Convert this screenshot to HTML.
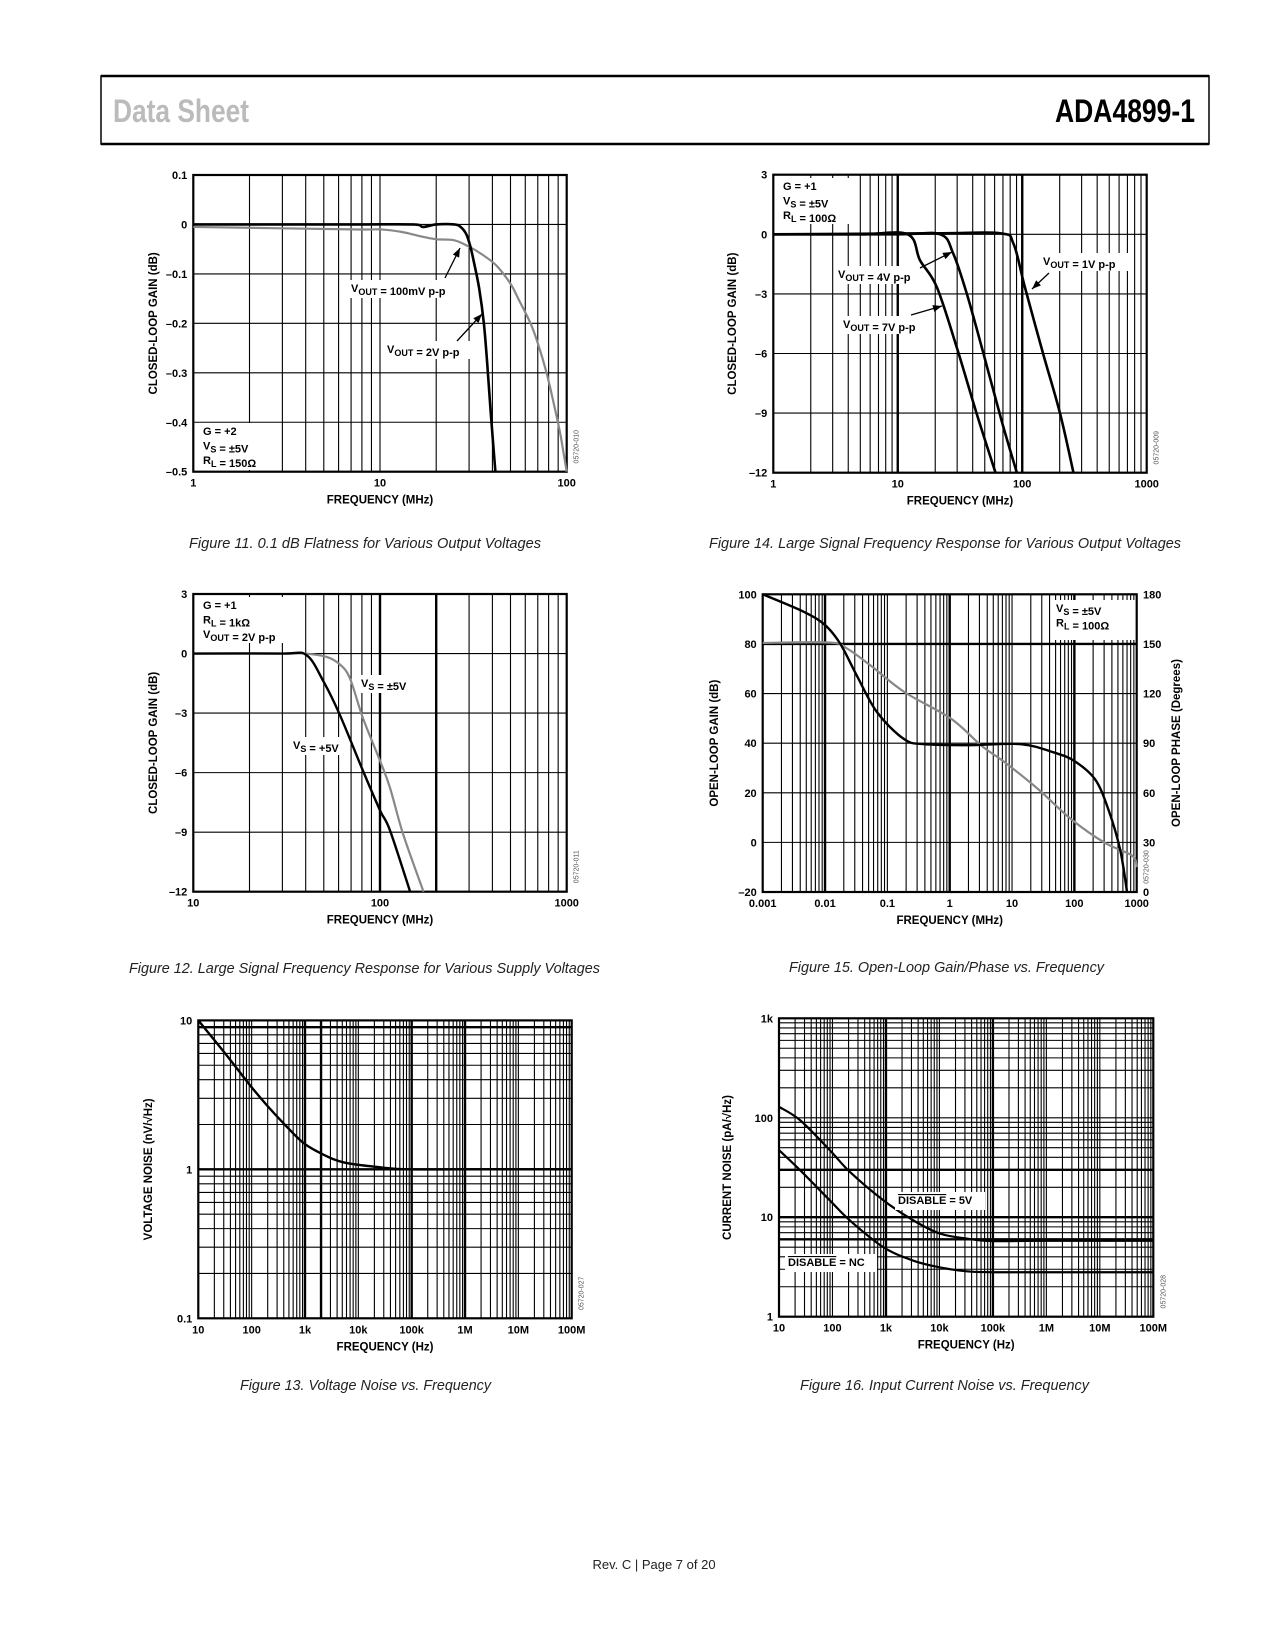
<!DOCTYPE html>
<html><head><meta charset="utf-8"><style>
html,body{margin:0;padding:0;background:#fff;}
svg{display:block;}
text{font-family:"Liberation Sans",Arial,sans-serif;}
.tk{font-size:11px;font-weight:bold;fill:#000;}
.ttl{font-size:11.5px;font-weight:bold;fill:#000;}
.cap{font-size:15px;font-style:italic;fill:#222;}
</style></head><body>
<svg id="page" width="1275" height="1650" viewBox="0 0 1275 1650" xmlns="http://www.w3.org/2000/svg">
<rect x="0" y="0" width="1275" height="1650" fill="#fff"/>
<g>
<rect x="101" y="76" width="1108" height="68" fill="none" stroke="#000" stroke-width="1.5"/>
<line x1="101" y1="76" x2="1209" y2="76" stroke="#000" stroke-width="2.5"/>
<line x1="101" y1="144" x2="1209" y2="144" stroke="#000" stroke-width="2.5"/>
<text x="113" y="122" font-size="32" font-weight="bold" fill="#bbb" textLength="136" lengthAdjust="spacingAndGlyphs">Data Sheet</text>
<text x="1055" y="122" font-size="32" font-weight="bold" fill="#000" textLength="140" lengthAdjust="spacingAndGlyphs">ADA4899-1</text>
</g>
<text class="cap" x="189" y="548" textLength="352" lengthAdjust="spacingAndGlyphs">Figure 11. 0.1 dB Flatness for Various Output Voltages</text>
<text class="cap" x="709" y="548" textLength="472" lengthAdjust="spacingAndGlyphs">Figure 14. Large Signal Frequency Response for Various Output Voltages</text>
<text class="cap" x="129" y="973" textLength="471" lengthAdjust="spacingAndGlyphs">Figure 12. Large Signal Frequency Response for Various Supply Voltages</text>
<text class="cap" x="789" y="972" textLength="315" lengthAdjust="spacingAndGlyphs">Figure 15. Open-Loop Gain/Phase vs. Frequency</text>
<text class="cap" x="240" y="1390" textLength="251" lengthAdjust="spacingAndGlyphs">Figure 13. Voltage Noise vs. Frequency</text>
<text class="cap" x="800" y="1390" textLength="289" lengthAdjust="spacingAndGlyphs">Figure 16. Input Current Noise vs. Frequency</text>
<text x="654" y="1569" font-size="13" fill="#222" text-anchor="middle">Rev. C | Page 7 of 20</text>
</svg>
<script>
// ---- Figure 11 data ----
const f11Freq2V = [1, 7, 15, 17, 20, 25, 27, 29, 30.5, 32, 34, 36, 37.5, 39, 40.5, 41.5];
const f11Gain2V = [0, 0, 0, -0.005, 0, 0, -0.005, -0.02, -0.045, -0.08, -0.13, -0.2, -0.28, -0.37, -0.45, -0.5];
const f11Freq100m = [1, 7, 10, 13, 17, 20, 25, 30, 35, 42, 50, 55, 64, 70, 78, 85, 92, 96, 100];
const f11Gain100m = [-0.005, -0.01, -0.01, -0.015, -0.025, -0.03, -0.032, -0.045, -0.06, -0.083, -0.12, -0.15, -0.2, -0.24, -0.3, -0.36, -0.42, -0.46, -0.5];
const f11YTicks = [0.1, 0, -0.1, -0.2, -0.3, -0.4, -0.5];
const f11YLabels = ["0.1", "0", "–0.1", "–0.2", "–0.3", "–0.4", "–0.5"];
const f11XTicks = [1, 10, 100];
const f11XLabels = ["1", "10", "100"];
// ---- Figure 14 data ----
const f14Freq7V = [1, 5, 12, 15.1, 20.6, 29.8, 43.1, 61];
const f14Gain7V = [0, 0, 0, -1.31, -2.66, -5.7, -9.04, -12];
const f14Freq4V = [1, 10, 21.9, 27.9, 35.9, 48.8, 68.4, 90.5];
const f14Gain4V = [0, 0, 0, -0.97, -3, -6, -9.4, -12];
const f14Freq1V = [1, 20, 66.7, 85, 105, 147, 201, 258];
const f14Gain1V = [0, 0.05, 0.05, -0.47, -2.66, -6, -9, -12];
const f14YTicks = [3, 0, -3, -6, -9, -12];
const f14YLabels = ["3", "0", "–3", "–6", "–9", "–12"];
const f14XTicks = [1, 10, 100, 1000];
const f14XLabels = ["1", "10", "100", "1000"];
// ---- Figure 12 data ----
const f12FreqP5 = [10, 30, 40.4, 49.9, 61, 81, 100, 113, 145];
const f12GainP5 = [0, 0, -0.08, -1.42, -3.1, -5.9, -7.9, -8.9, -12];
const f12FreqPM5 = [10, 30, 35, 40, 51.8, 61, 69, 81, 100, 113, 133, 171];
const f12GainPM5 = [0, 0, 0.02, 0, -0.17, -0.55, -1.25, -3.25, -5.4, -6.75, -9.1, -12];
const f12YTicks = [3, 0, -3, -6, -9, -12];
const f12YLabels = ["3", "0", "–3", "–6", "–9", "–12"];
const f12XTicks = [10, 100, 1000];
const f12XLabels = ["10", "100", "1000"];
// ---- Figure 15 data ----
const f15Freq = [0.001, 0.00452, 0.01, 0.0176, 0.0327, 0.0687, 0.186, 0.39, 2.16, 13.9, 47.5, 100, 215, 352, 543, 700];
const f15Gain = [100, 93, 87.6, 80, 67, 52.4, 41.6, 39.6, 39.2, 39.6, 36.2, 32.8, 25.4, 13.2, -3, -20];
const f15PhFreq = [0.001, 0.0122, 0.0226, 0.0536, 0.186, 1.05, 3.2, 7.6, 26, 89, 306, 843, 1000];
const f15Phase = [150.6, 150.8, 147.2, 137, 121, 104.8, 88.6, 78.5, 62.3, 44, 29.8, 22, 15];
const f15YTicks = [100, 80, 60, 40, 20, 0, -20];
const f15YLabels = ["100", "80", "60", "40", "20", "0", "–20"];
const f15PhTicks = [180, 150, 120, 90, 60, 30, 0];
const f15PhLabels = ["180", "150", "120", "90", "60", "30", "0"];
const f15XTicks = [0.001, 0.01, 0.1, 1, 10, 100, 1000];
const f15XLabels = ["0.001", "0.01", "0.1", "1", "10", "100", "1000"];
// ---- Figure 13 data ----
const f13Freq = [10, 33.9, 92, 190, 390, 922, 2180, 5500, 26700, 85000, 1e6, 1e8];
const f13Noise = [10, 5.84, 3.69, 2.71, 2.05, 1.51, 1.26, 1.11, 1.03, 1.0, 1.0, 1.0];
const f13YTicks = [0.1, 1, 10];
const f13YLabels = ["0.1", "1", "10"];
const f13XTicks = [10, 100, 1e3, 1e4, 1e5, 1e6, 1e7, 1e8];
const f13XLabels = ["10", "100", "1k", "10k", "100k", "1M", "10M", "100M"];
// ---- Figure 16 data ----
const f16Freq5V = [10, 24.7, 89, 211, 895, 3250, 10300, 32500, 89000, 1e6, 1e8];
const f16Noise5V = [129, 94.7, 47.3, 28.6, 14.8, 9.3, 6.84, 6.1, 5.77, 5.8, 5.8];
const f16FreqNC = [10, 24.7, 89, 211, 895, 3250, 10300, 32500, 102000, 1e6, 1e8];
const f16NoiseNC = [47.3, 29.8, 14.8, 9.3, 5.0, 3.66, 3.13, 2.86, 2.8, 2.8, 2.8];
const f16YTicks = [1, 10, 100, 1000];
const f16YLabels = ["1", "10", "100", "1k"];
const f16XTicks = [10, 100, 1e3, 1e4, 1e5, 1e6, 1e7, 1e8];
const f16XLabels = ["10", "100", "1k", "10k", "100k", "1M", "10M", "100M"];

const NS = "http://www.w3.org/2000/svg";
const page = document.getElementById('page');
function mk(tag, attrs, parent) {
  const e = document.createElementNS(NS, tag);
  for (const k in attrs) e.setAttribute(k, attrs[k]);
  parent.appendChild(e);
  return e;
}
function chart(cfg) {
  const g = mk('g', {}, page);
  
  
  const lx0 = Math.log10(cfg.xmin), lx1 = Math.log10(cfg.xmax);
  const sx = v => cfg.L + (Math.log10(v) - lx0) / (lx1 - lx0) * (cfg.R - cfg.L);
  let sy;
  if (cfg.ylog) {
    const a = Math.log10(cfg.ymin), b = Math.log10(cfg.ymax);
    sy = v => cfg.B - (Math.log10(v) - a) / (b - a) * (cfg.B - cfg.T);
  } else {
    sy = v => cfg.B - (v - cfg.ymin) / (cfg.ymax - cfg.ymin) * (cfg.B - cfg.T);
  }
  const grid = mk('g', {stroke: '#000', fill: 'none'}, g);
  
  
  for (let d = Math.round(lx0); d < Math.round(lx1); d++) {
    for (let m = 1; m <= 9; m++) {
      const v = m * Math.pow(10, d);
      const x = sx(v);
      if (x <= cfg.L + 0.5 || x >= cfg.R - 0.5) continue;
      const thick = (cfg.thickX || []).some(t => Math.abs(t - v) / v < 1e-6);
      const ln = mk('line', {x1: x, x2: x, y1: cfg.T, y2: cfg.B, 'stroke-width': thick ? 2.4 : 1.1}, grid);
      
      
    }
  }
  let hvals = [];
  if (cfg.ylog) {
    for (let d = Math.round(Math.log10(cfg.ymin)); d < Math.round(Math.log10(cfg.ymax)); d++)
      for (let m = 1; m <= 9; m++) hvals.push(m * Math.pow(10, d));
  } else hvals = cfg.yTicks.slice();
  hvals.forEach(v => {
    const y = sy(v);
    if (y <= cfg.T + 0.5 || y >= cfg.B - 0.5) return;
    const thick = (cfg.thickY || []).some(t => Math.abs(t - v) < 1e-6 * Math.max(1, Math.abs(v)));
    const ln = mk('line', {x1: cfg.L, x2: cfg.R, y1: y, y2: y, 'stroke-width': thick ? 2.4 : 1.1}, grid);
    
    
  });
  const fr = mk('rect', {x: cfg.L, y: cfg.T, width: cfg.R - cfg.L, height: cfg.B - cfg.T, fill: 'none', stroke: '#000', 'stroke-width': 2.2}, g);
  
  
  cfg.yTicks.forEach((v, i) => {
    const t = mk('text', {x: cfg.L - 6, y: sy(v) + 4, class: 'tk', 'text-anchor': 'end'}, g);
    t.textContent = cfg.yLabels[i];
    
    
  });
  cfg.xTicks.forEach((v, i) => {
    const t = mk('text', {x: sx(v), y: cfg.B + 15, class: 'tk', 'text-anchor': 'middle'}, g);
    t.textContent = cfg.xLabels[i];
    
    
  });
  const xt = mk('text', {x: (cfg.L + cfg.R) / 2, y: cfg.B + 32, class: 'ttl', 'text-anchor': 'middle'}, g);
  xt.textContent = cfg.xTitle;
  
  
  const cy = (cfg.T + cfg.B) / 2;
  const yt = mk('text', {x: cfg.yTitleX, y: cy, class: 'ttl', 'text-anchor': 'middle', transform: `rotate(-90 ${cfg.yTitleX} ${cy})`}, g);
  yt.innerHTML = cfg.yTitle;
  
  
  const cx = cfg.R + 12, cyy = cfg.B - 25;
  const code = mk('text', {x: cx, y: cyy, 'font-size': 7, fill: '#555', 'text-anchor': 'middle', transform: `rotate(-90 ${cx} ${cyy})`}, g);
  code.textContent = cfg.code;
  
  
  return {g, sx, sy};
}
function series(c, xs, ys, color, w, name, syf) {
  const f = syf || c.sy;
  const p = xs.map((x, i) => [c.sx(x), f(ys[i])]);
  let d = `M${p[0][0]},${p[0][1]}`;
  for (let i = 0; i < p.length - 1; i++) {
    const p0 = p[i - 1] || p[i], p1 = p[i], p2 = p[i + 1], p3 = p[i + 2] || p2;
    const c1 = [p1[0] + (p2[0] - p0[0]) / 6, p1[1] + (p2[1] - p0[1]) / 6];
    const c2 = [p2[0] - (p3[0] - p1[0]) / 6, p2[1] - (p3[1] - p1[1]) / 6];
    d += ` C${c1[0]},${c1[1]} ${c2[0]},${c2[1]} ${p2[0]},${p2[1]}`;
  }
  const e = mk('path', {d, fill: 'none', stroke: color, 'stroke-width': w, 'stroke-linejoin': 'round'}, c.g);
  
  
  return e;
}
function label(parent, x, y, w, h, html, name) {
  const gg = mk('g', {}, parent);
  
  
  mk('rect', {x, y, width: w, height: h, fill: '#fff'}, gg);
  const lines = Array.isArray(html) ? html : [html];
  lines.forEach((s, i) => {
    const t = mk('text', {x: x + 3, y: y + 12 + i * 14.5, class: 'tk'}, gg);
    t.innerHTML = s;
  });
  return gg;
}
function arrow(parent, x1, y1, x2, y2) {
  const gg = mk('g', {}, parent);
  
  
  mk('line', {x1, y1, x2, y2, stroke: '#000', 'stroke-width': 1.3}, gg);
  const a = Math.atan2(y2 - y1, x2 - x1), L = 9, W = 3.5;
  const bx = x2 - L * Math.cos(a), by = y2 - L * Math.sin(a);
  mk('polygon', {points: `${x2},${y2} ${bx - W * Math.sin(a)},${by + W * Math.cos(a)} ${bx + W * Math.sin(a)},${by - W * Math.cos(a)}`, fill: '#000'}, gg);
}
const sub = s => `<tspan dy="3" font-size="9">${s}</tspan><tspan dy="-3"></tspan>`;
const ov = s => `<tspan text-decoration="overline">${s}</tspan>`;

// Figure 11
const c1 = chart({name: 'chart-fig11', L: 193.3, R: 566.7, T: 175, B: 471.7, xmin: 1, xmax: 100, ymin: -0.5, ymax: 0.1,
  yTicks: f11YTicks, yLabels: f11YLabels, xTicks: f11XTicks, xLabels: f11XLabels,
  xTitle: 'FREQUENCY (MHz)', yTitle: 'CLOSED-LOOP GAIN (dB)', yTitleX: 157, code: '05720-010'});
series(c1, f11Freq100m, f11Gain100m, '#888', 2.2, 'series-100mv');
series(c1, f11Freq2V, f11Gain2V, '#000', 2.6, 'series-2v');
label(c1.g, 348, 280, 118, 18, 'V' + sub('OUT') + ' = 100mV p-p', 'label-100mv');
arrow(c1.g, 445, 278, 460, 248);
label(c1.g, 384, 341, 90, 18, 'V' + sub('OUT') + ' = 2V p-p', 'label-2v');
arrow(c1.g, 457, 341, 482, 314);
label(c1.g, 200, 423, 80, 47, ['G = +2', 'V' + sub('S') + ' = ±5V', 'R' + sub('L') + ' = 150Ω'], 'legend-conditions');

// Figure 14
const c2 = chart({name: 'chart-fig14', L: 773.3, R: 1146.7, T: 174.7, B: 472.7, xmin: 1, xmax: 1000, ymin: -12, ymax: 3,
  yTicks: f14YTicks, yLabels: f14YLabels, xTicks: f14XTicks, xLabels: f14XLabels, thickX: [10, 100],
  xTitle: 'FREQUENCY (MHz)', yTitle: 'CLOSED-LOOP GAIN (dB)', yTitleX: 736, code: '05720-009'});
label(c2.g, 780, 178, 72, 46, ['G = +1', 'V' + sub('S') + ' = ±5V', 'R' + sub('L') + ' = 100Ω'], 'legend-conditions');
series(c2, f14Freq7V, f14Gain7V, '#000', 2.6, 'series-7v');
series(c2, f14Freq4V, f14Gain4V, '#000', 2.6, 'series-4v');
series(c2, f14Freq1V, f14Gain1V, '#000', 2.6, 'series-1v');
label(c2.g, 835, 266, 88, 18, 'V' + sub('OUT') + ' = 4V p-p', 'label-4v');
arrow(c2.g, 920, 268, 952, 252);
label(c2.g, 840, 316, 88, 18, 'V' + sub('OUT') + ' = 7V p-p', 'label-7v');
arrow(c2.g, 911, 315, 942, 306);
label(c2.g, 1040, 253, 88, 18, 'V' + sub('OUT') + ' = 1V p-p', 'label-1v');
arrow(c2.g, 1049, 273, 1032, 289);

// Figure 12
const c3 = chart({name: 'chart-fig12', L: 193.3, R: 566.7, T: 594, B: 891.7, xmin: 10, xmax: 1000, ymin: -12, ymax: 3,
  yTicks: f12YTicks, yLabels: f12YLabels, xTicks: f12XTicks, xLabels: f12XLabels, thickX: [100, 200],
  xTitle: 'FREQUENCY (MHz)', yTitle: 'CLOSED-LOOP GAIN (dB)', yTitleX: 157, code: '05720-011'});
label(c3.g, 200, 597, 90, 46, ['G = +1', 'R' + sub('L') + ' = 1kΩ', 'V' + sub('OUT') + ' = 2V p-p'], 'legend-conditions');
series(c3, f12FreqPM5, f12GainPM5, '#888', 2.2, 'series-vs-pm5v');
series(c3, f12FreqP5, f12GainP5, '#000', 2.4, 'series-vs-p5v');
label(c3.g, 358, 675, 58, 18, 'V' + sub('S') + ' = ±5V', 'label-pm5v');
label(c3.g, 290, 737, 58, 18, 'V' + sub('S') + ' = +5V', 'label-p5v');

// Figure 15
const c4 = chart({name: 'chart-fig15', L: 762.7, R: 1136.7, T: 594.3, B: 892, xmin: 0.001, xmax: 1000, ymin: -20, ymax: 100,
  yTicks: f15YTicks, yLabels: f15YLabels, xTicks: f15XTicks, xLabels: f15XLabels, thickX: [0.01, 1, 100], thickY: [80],
  xTitle: 'FREQUENCY (MHz)', yTitle: 'OPEN-LOOP GAIN (dB)', yTitleX: 718, code: '05720-030'});
const syPh = v => c4.sy(-20 + v / 180 * 120);
f15PhTicks.forEach((v, i) => {
  const t = mk('text', {x: 1143, y: syPh(v) + 4, class: 'tk'}, c4.g);
  t.textContent = f15PhLabels[i];
  
  
});
const rtx = 1180, rty = 743;
const rt = mk('text', {x: rtx, y: rty, class: 'ttl', 'text-anchor': 'middle', transform: `rotate(-90 ${rtx} ${rty})`}, c4.g);
rt.textContent = 'OPEN-LOOP PHASE (Degrees)';


label(c4.g, 1053, 600, 82, 40, ['V' + sub('S') + ' = ±5V', 'R' + sub('L') + ' = 100Ω'], 'legend-conditions');
series(c4, f15PhFreq, f15Phase, '#888', 2.2, 'series-phase', syPh);
series(c4, f15Freq, f15Gain, '#000', 2.4, 'series-gain');

// Figure 13
const c5 = chart({name: 'chart-fig13', L: 198.3, R: 571.7, T: 1020.4, B: 1318.3, xmin: 10, xmax: 1e8, ylog: true, ymin: 0.1, ymax: 10,
  yTicks: f13YTicks, yLabels: f13YLabels, xTicks: f13XTicks, xLabels: f13XLabels, thickX: [1e3, 2e3, 1e5, 1e6], thickY: [1, 9],
  xTitle: 'FREQUENCY (Hz)', yTitle: 'VOLTAGE NOISE (nV/√Hz)', yTitleX: 152, code: '05720-027'});
series(c5, f13Freq, f13Noise, '#000', 2.4, 'series-voltage-noise');

// Figure 16
const c6 = chart({name: 'chart-fig16', L: 779, R: 1153.3, T: 1018.3, B: 1316.7, xmin: 10, xmax: 1e8, ylog: true, ymin: 1, ymax: 1000,
  yTicks: f16YTicks, yLabels: f16YLabels, xTicks: f16XTicks, xLabels: f16XLabels, thickX: [1e3, 1e5], thickY: [30, 10, 6],
  xTitle: 'FREQUENCY (Hz)', yTitle: 'CURRENT NOISE (pA/√Hz)', yTitleX: 731, code: '05720-028'});
series(c6, f16Freq5V, f16Noise5V, '#000', 2.2, 'series-disable-5v');
series(c6, f16FreqNC, f16NoiseNC, '#000', 2.2, 'series-disable-nc');
label(c6.g, 895, 1192, 90, 18, ov('DISABLE') + ' = 5V', 'label-disable-5v');
label(c6.g, 785, 1254, 92, 18, ov('DISABLE') + ' = NC', 'label-disable-nc');
</script>
</body></html>
